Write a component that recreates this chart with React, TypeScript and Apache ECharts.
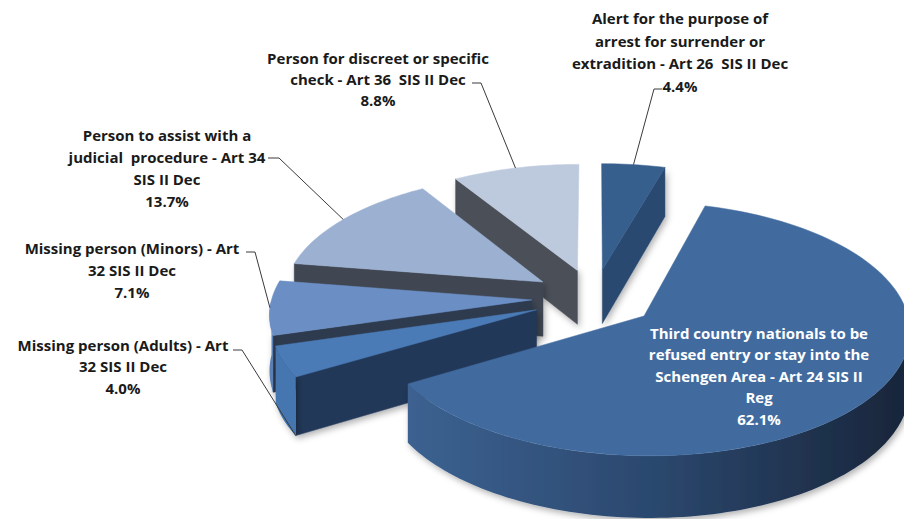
import React, { useEffect, useRef } from "react";
import * as echarts from "echarts";

// ---- data (clockwise from 12 o'clock) ----
const names = [
  "Alert for the purpose of\narrest for surrender or\nextradition - Art 26  SIS II Dec",
  "Third country nationals to be\nrefused entry or stay into the\nSchengen Area - Art 24 SIS II\nReg",
  "Missing person (Adults) - Art\n32 SIS II Dec",
  "Missing person (Minors) - Art\n32 SIS II Dec",
  "Person to assist with a\njudicial  procedure - Art 34\nSIS II Dec",
  "Person for discreet or specific\ncheck - Art 36  SIS II Dec",
];
const values = [4.4, 62.1, 4.0, 7.1, 13.7, 8.8];

// ---- styling / layout ----
const CX = 594, CY = 298, RX = 260, RY = 122, DEPTH = 55, PERSP = 0.1, EXPLODE = 0.239;
const START_ANGLE = 90;
const FONT = "Open Sans";
const FONT_SIZE = 15;
const topColors = ["#365f8e", "#416b9f", "#4a7bb6", "#6b8ec4", "#9cb1d2", "#bdc9dd"];
const radialWallColors = ["#29486f", "#2a4468", "#233958", "#2d3a50", "#3f4652", "#4b5059"];
const outerWallColors: any[] = ["#2b4a72", "big", "#4576b0", "#5c80b6", "#7d93b5", "#9aa6ba"];
const labelLayout = [
  { x: 680, top: 7, lh: 22.5, color: "#1a1a1a", leader: [[662, 89], [654, 89]], t: 0.5, h: 0 },
  { x: 759, top: 322, lh: 21.5, color: "#ffffff", leader: null, t: 0, h: 0 },
  { x: 123, top: 334, lh: 21.5, color: "#1a1a1a", leader: [[233, 350], [242, 350]], t: 1, h: 1 },
  { x: 132, top: 237, lh: 22, color: "#1a1a1a", leader: [[246, 252], [255, 252]], t: 0.5, h: 0 },
  { x: 167, top: 124, lh: 22, color: "#1a1a1a", leader: [[268, 158], [279, 158]], t: 0.5, h: 0 },
  { x: 378, top: 47, lh: 21, color: "#1a1a1a", leader: [[472, 83], [481, 83]], t: 0.5, h: 0 },
];

const DEG = Math.PI / 180;
function proj(X: number, Y: number, h: number): number[] {
  const s = 1 / (1 + PERSP * Y);
  return [CX + X * RX * s, CY - Y * RY * s + h * DEPTH * s];
}

export default function App() {
  const ref = useRef<HTMLDivElement>(null);
  useEffect(() => {
    if (!ref.current) return;
    const chart = echarts.init(ref.current, null, { renderer: "svg" });
    const total = values.reduce((a, b) => a + b, 0);
    let acc = 0;
    const slices = values.map((v) => {
      const hi = START_ANGLE - (acc / total) * 360;
      acc += v;
      const lo = START_ANGLE - (acc / total) * 360;
      return { hi, lo };
    });
    const bigGrad = new echarts.graphic.LinearGradient(0, 0, 1, 0, [
      { offset: 0, color: "#3c6291" },
      { offset: 0.5, color: "#2b476d" },
      { offset: 1, color: "#18253a" },
    ]);
    const shadow = { shadowBlur: 6, shadowColor: "rgba(0,0,0,0.3)", shadowOffsetX: 2, shadowOffsetY: 3 };

    const renderItem = (params: any, api: any) => {
      const i = params.dataIndex;
      const v = api.value(0);
      const { hi, lo } = slices[i];
      const mid = ((hi + lo) / 2) * DEG;
      const ox = EXPLODE * Math.cos(mid), oy = EXPLODE * Math.sin(mid);
      const rim = (a: number, h: number) => proj(ox + Math.cos(a * DEG), oy + Math.sin(a * DEG), h);
      const apex = (h: number) => proj(ox, oy, h);
      const depthZ = Math.round(50 - oy * 100);
      const children: any[] = [];
      // top face
      const n = Math.max(4, Math.ceil((hi - lo) / 1.5));
      const arc: number[][] = [];
      for (let k = 0; k <= n; k++) arc.push(rim(lo + ((hi - lo) * k) / n, 0));
      children.push({
        type: "polygon", z2: 200, silent: true,
        shape: { points: [apex(0), ...arc] },
        style: { fill: topColors[i], stroke: topColors[i], lineWidth: 0.5 },
      });
      // radial walls
      const wall = (a: number) => ({
        type: "polygon", z2: depthZ, silent: true,
        shape: { points: [apex(0), rim(a, 0), rim(a, 1), apex(1)] },
        style: { fill: radialWallColors[i], stroke: radialWallColors[i], lineWidth: 0.5, ...shadow },
      });
      if (Math.cos(hi * DEG) < -0.01) children.push(wall(hi));
      if (Math.cos(lo * DEG) > 0.01) children.push(wall(lo));
      // outer wall (front-facing part)
      for (const [a1, b1] of [[-180, 0], [180, 360], [-540, -360]]) {
        const s = Math.max(lo, a1), e = Math.min(hi, b1);
        if (e <= s) continue;
        const m = Math.max(3, Math.ceil((e - s) / 1.5));
        const topPts: number[][] = [], botPts: number[][] = [];
        for (let k = 0; k <= m; k++) {
          const a = s + ((e - s) * k) / m;
          topPts.push(rim(a, 0));
          botPts.push(rim(a, 1));
        }
        const fill = outerWallColors[i] === "big" ? bigGrad : outerWallColors[i];
        children.push({
          type: "polygon", z2: depthZ + 1, silent: true,
          shape: { points: [...topPts, ...botPts.reverse()] },
          style: { fill, ...shadow },
        });
      }
      // label
      const L = labelLayout[i];
      children.push({
        type: "text", z2: 400, silent: true,
        style: {
          text: names[i] + "\n" + v.toFixed(1) + "%",
          x: L.x, y: L.top, align: "center", verticalAlign: "top",
          fontFamily: FONT, fontWeight: "bold", fontSize: FONT_SIZE, lineHeight: L.lh,
          fill: L.color,
        },
      });
      if (L.leader) {
        const target = rim(lo + (hi - lo) * L.t, L.h);
        children.push({
          type: "polyline", z2: 390, silent: true,
          shape: { points: [L.leader[0], L.leader[1], target] },
          style: { stroke: "#3a3a3a", lineWidth: 1, fill: "none" },
        });
      }
      return { type: "group", children };
    };

    chart.setOption({
      animation: false,
      backgroundColor: "#ffffff",
      series: [
        {
          type: "custom",
          coordinateSystem: "none",
          clip: false,
          renderItem,
          data: values.map((v, i) => ({ name: names[i], value: [v] })),
        },
      ],
    });
    return () => chart.dispose();
  }, []);
  return (
    <div
      ref={ref}
      style={{ position: "fixed", left: 0, top: 0, width: 904, height: 519, background: "#fff" }}
    />
  );
}
